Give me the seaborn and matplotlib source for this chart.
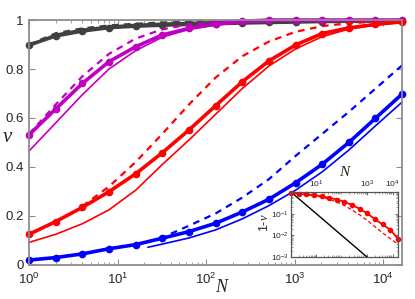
import matplotlib
matplotlib.use('Agg')
import matplotlib.pyplot as plt
import seaborn as sns
from matplotlib.ticker import LogLocator, NullFormatter, FixedLocator, FixedFormatter

# data
N = [1, 2, 4, 8, 16, 32, 64, 128, 256, 512, 1024, 2048, 4096, 8192, 16384]

gray_sim = [0.898, 0.935, 0.955, 0.969, 0.975, 0.979, 0.982, 0.985, 0.988, 0.990, 0.992, 0.994, 0.995, 0.996, 0.997]
gray_thin = [0.897, 0.942, 0.962, 0.975, 0.982, 0.987, 0.990, 0.993, 0.995, 0.996, 0.997, 0.998, 0.999, 0.999, 0.999]
gray_dash = [0.900, 0.946, 0.966, 0.978, 0.985, 0.990, 0.993, 0.995, 0.997, 0.998, 0.999, 0.999, 1.0, 1.0, 1.0]

mag_sim = [0.531, 0.637, 0.741, 0.830, 0.891, 0.939, 0.966, 0.983, 0.995, 1.0, 1.0, 1.0, 1.0, 1.0, 1.0]
mag_thin = [0.465, 0.580, 0.695, 0.800, 0.875, 0.930, 0.962, 0.980, 0.990, 0.995, 0.998, 0.999, 1.0, 1.0, 1.0]
mag_dash = [0.535, 0.655, 0.770, 0.862, 0.924, 0.962, 0.982, 0.992, 0.996, 0.998, 0.999, 1.0, 1.0, 1.0, 1.0]

red_sim = [0.125, 0.177, 0.235, 0.299, 0.372, 0.458, 0.551, 0.650, 0.748, 0.833, 0.898, 0.945, 0.968, 0.982, 0.993]
red_thin = [0.092, 0.125, 0.168, 0.225, 0.305, 0.410, 0.510, 0.615, 0.720, 0.812, 0.882, 0.932, 0.963, 0.980, 0.990]
red_dash_N = [4, 8, 16, 32, 64, 128, 256, 512, 1024, 2048, 4096, 8192, 16384]
red_dash = [0.240, 0.320, 0.420, 0.535, 0.655, 0.765, 0.852, 0.912, 0.952, 0.975, 0.987, 0.993, 0.996]

blue_sim = [0.020, 0.030, 0.045, 0.066, 0.083, 0.109, 0.136, 0.170, 0.216, 0.268, 0.335, 0.411, 0.500, 0.599, 0.698]
blue_N2 = [22, 32, 64, 128, 256, 512, 1024, 2048, 4096, 8192, 16384]
blue_thin = [0.072, 0.085, 0.110, 0.143, 0.188, 0.242, 0.305, 0.380, 0.469, 0.568, 0.665]
blue_dash = [0.095, 0.112, 0.160, 0.210, 0.275, 0.350, 0.445, 0.535, 0.625, 0.720, 0.815]

ref_N = [1, 1000]
ref_y = [1.0, 0.001]

sns.set_style('ticks')
plt.rcParams['font.family'] = ['Liberation Sans', 'DejaVu Sans']
plt.rcParams['mathtext.fontset'] = 'custom'
plt.rcParams['mathtext.rm'] = 'Liberation Sans'
plt.rcParams['mathtext.it'] = 'Liberation Serif:italic'

GRAY = '#404040'
MAG = '#c000c0'
RED = '#ff0000'
BLUE = '#0000ff'
SPINE = '#8c8c8c'


def draw(ax, x, y, color, **kw):
    sns.lineplot(x=x, y=y, ax=ax, color=color, estimator=None, sort=False,
                 clip_on=False, **kw)


fig = plt.figure(figsize=(4.15, 2.99), dpi=100)
ax = fig.add_axes([0.070, 0.114, 0.899, 0.819])
ax.set_xscale('log')

groups = [
    (GRAY, N, gray_thin, N, gray_dash, gray_sim),
    (MAG, N, mag_thin, N, mag_dash, mag_sim),
    (BLUE, blue_N2, blue_thin, blue_N2, blue_dash, blue_sim),
    (RED, N, red_thin, red_dash_N, red_dash, red_sim),
]
for color, tn, thin, dn, dash, sim in groups:
    draw(ax, tn, thin, color, lw=1.2)
    draw(ax, dn, dash, color, lw=1.6, ls=(0, (3, 2.5)))
    draw(ax, N, sim, color, lw=2.6, marker='o', markersize=5.5, markeredgewidth=0)

ax.set_xlim(1, 16384)
ax.set_ylim(0, 1)
ax.set_xticks([1, 10, 100, 1000, 10000])
ax.set_xticklabels([r'$\mathregular{10^{%d}}$' % k for k in range(5)])
ax.xaxis.set_minor_locator(LogLocator(base=10, subs=range(2, 10), numticks=20))
ax.xaxis.set_minor_formatter(NullFormatter())
ax.set_yticks([0, 0.2, 0.4, 0.6, 0.8, 1])
ax.set_yticklabels(['0', '0.2', '0.4', '0.6', '0.8', '1'])
ax.tick_params(which='both', direction='in', top=True, right=True, color=SPINE,
               labelsize=9.5)
ax.tick_params(axis='x', pad=5)
ax.tick_params(axis='y', pad=4)
ax.tick_params(which='major', length=4, width=0.8)
ax.tick_params(which='minor', length=2, width=0.6)
for s in ax.spines.values():
    s.set_color(SPINE)
    s.set_linewidth(1.3)
ax.set_xlabel('')
ax.set_ylabel('')
fig.text(0.018, 0.545, '$v$', fontsize=15, ha='center', va='center')
fig.text(0.535, 0.038, '$N$', fontsize=13, ha='center', va='center')

# inset: 1 - v on log-log axes
ax2 = fig.add_axes([0.701, 0.140, 0.258, 0.218])
ax2.set_xscale('log')
ax2.set_yscale('log')
ax2.set_facecolor('white')
draw(ax2, ref_N, ref_y, 'black', lw=1.0)
draw(ax2, red_dash_N, [1 - v for v in red_dash], RED, lw=0.9, ls=(0, (3, 2)))
draw(ax2, N, [1 - v for v in red_sim], RED, lw=1.3, marker='o', markersize=4,
     markeredgewidth=0)
ax2.set_xlim(1, 16384)
ax2.set_ylim(1e-3, 1)
ax2.xaxis.tick_top()
ax2.xaxis.set_major_locator(FixedLocator([10, 1000, 10000]))
ax2.xaxis.set_major_formatter(FixedFormatter([r'$\mathregular{10^{1}}$', r'$\mathregular{10^{3}}$',
                                              r'$\mathregular{10^{4}}$']))
ax2.xaxis.set_minor_locator(LogLocator(base=10, subs=range(2, 10), numticks=20))
ax2.xaxis.set_minor_formatter(NullFormatter())
ax2.yaxis.set_major_locator(FixedLocator([1e-3, 1e-2, 1e-1]))
ax2.yaxis.set_major_formatter(FixedFormatter([r'$\mathregular{10^{-3}}$', r'$\mathregular{10^{-2}}$',
                                              r'$\mathregular{10^{-1}}$']))
ax2.yaxis.set_minor_locator(LogLocator(base=10, subs=range(2, 10), numticks=20))
ax2.yaxis.set_minor_formatter(NullFormatter())
ax2.tick_params(which='both', direction='in', top=True, bottom=True, left=True, right=True,
                labelsize=6, pad=1.5, color='#555555')
ax2.tick_params(which='major', length=2.5, width=0.6)
ax2.tick_params(which='minor', length=1.2, width=0.4)
for s in ax2.spines.values():
    s.set_color('#555555')
    s.set_linewidth(0.9)
ax2.set_xlabel('')
ax2.set_ylabel('')
fig.text(0.832, 0.425, '$N$', fontsize=11, ha='center', va='center')
fig.text(0.638, 0.255, r'$\mathregular{1}$-$v$', fontsize=9, ha='center', va='center',
         rotation=90)

fig.savefig('out.png', dpi=100)
